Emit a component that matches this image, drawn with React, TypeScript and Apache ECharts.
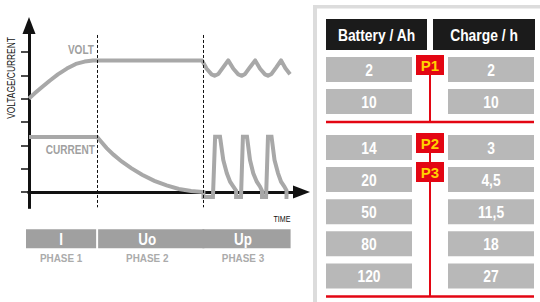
import React, { useEffect, useRef } from 'react';
import * as echarts from 'echarts';

// ---------- chart data ----------
const phaseCodes = ['I', 'Uo', 'Up'];
const phaseNames = ['PHASE 1', 'PHASE 2', 'PHASE 3'];
const phaseStarts = [0, 25, 64];
const phaseEnds = [25, 64, 96];

const yTicks = [0, 1, 2, 3, 4, 5, 6];

const voltTime = [0, 2.2, 4.8, 7.7, 10.6, 13.9, 17.2, 20.4, 23.5, 25, 63.5,
  65.2, 67.0, 68.1, 69.5, 71.3, 73.1,
  75.0, 76.8, 78.1, 79.3, 81.1, 83.0,
  84.8, 86.6, 87.7, 89.0, 90.8, 92.5,
  94.1, 95.8];
const voltLevel = [4.01, 4.24, 4.5, 4.78, 5.04, 5.29, 5.49, 5.59, 5.64, 5.64, 5.64,
  5.28, 5.04, 4.98, 5.06, 5.35, 5.64,
  5.28, 5.04, 4.98, 5.06, 5.35, 5.64,
  5.28, 5.04, 4.98, 5.06, 5.35, 5.64,
  5.3, 5.05];

const currentTime = [0, 25, 26.5, 28.5, 31, 34, 37.5, 41.5, 46, 50.5, 55, 59.5, 64,
  64, 67.5,
  68.3, 70.1, 71.3, 72.6, 73.8, 75.0, 76.0, 76.0, 77.8,
  78.5, 80.0, 81.1, 82.3, 83.6, 84.8, 85.5, 85.5, 87.0,
  87.7, 89.0, 90.1, 91.4, 92.5, 93.7, 94.5, 94.5, 95.2];
const currentLevel = [2.36, 2.36, 2.15, 1.88, 1.6, 1.31, 1.02, 0.74, 0.48, 0.28, 0.13, 0.04, 0,
  -0.21, -0.21,
  2.37, 2.37, 1.37, 0.8, 0.44, 0.23, 0.06, -0.21, -0.21,
  2.37, 2.37, 1.37, 0.8, 0.44, 0.23, 0.06, -0.21, -0.21,
  2.37, 2.37, 1.37, 0.8, 0.44, 0.23, 0.06, -0.21, -0.21];

// ---------- table data ----------
const tableHeaders = ['Battery / Ah', 'Charge / h'];
const batteryAh = ['2', '10', '14', '20', '50', '80', '120'];
const chargeHours = ['2', '10', '3', '4,5', '11,5', '18', '27'];
const chargePrograms = ['P1', 'P1', 'P2', 'P3', 'P3', 'P3', 'P3'];
const programBlocks = [0, 0, 1, 1, 1, 1, 1];

// ---------- layout / style constants ----------
const Y_MIN = -0.656;
const Y_MAX = 7.136;
const DASH_TOP = 6.73;
const BLOCK_GAP = 0.43;
const HEADER_SLOT = -1.09;

const GRAY_LINE = '#a8a8a8';
const RED = '#e30613';
const CELL = '#b8b8b8';
const SANS = "'Liberation Sans', Arial, Helvetica, sans-serif";
const NARROW_SCALE = 0.84;

const slotOf = (i: number) => i + programBlocks[i] * BLOCK_GAP;
const startsBox = (i: number) => i === 0 || chargePrograms[i] !== chargePrograms[i - 1];

const narrowText = (x: number, y: number, text: string, fill: string, fontSize: number, bold: boolean, align = 'center', extra: any = {}, scale = NARROW_SCALE) => ({
  type: 'text', x, y, scaleX: scale, ...extra,
  style: { text, fill, fontSize, fontWeight: bold ? 'bold' : 'normal', fontFamily: SANS, align, verticalAlign: 'middle' },
});

export default function App() {
  const ref = useRef<HTMLDivElement>(null);

  useEffect(() => {
    if (!ref.current) return;
    const chart = echarts.init(ref.current, undefined, { renderer: 'svg' });

    const voltData = voltTime.map((t, i) => [t, voltLevel[i]]);
    const currentData = currentTime.map((t, i) => [t, currentLevel[i]]);
    const phaseData = phaseCodes.map((c, i) => [phaseStarts[i], phaseEnds[i]]);
    const tableData = batteryAh.map((b, i) => [0, slotOf(i)]);

    const firstRowOfBlock = (blk: number) => programBlocks.indexOf(blk);

    const option: any = {
      animation: false,
      grid: [
        { left: 29, top: 25.5, right: 238.5, bottom: 94.7 },
        { left: 326, top: 18.14, right: 5, bottom: 1.38 },
      ],
      xAxis: [
        {
          gridIndex: 0, type: 'value', min: 0, max: 100,
          axisLine: {
            show: true, symbol: ['none', 'triangle'], symbolSize: [13, 17],
            lineStyle: { color: '#111', width: 3, cap: 'square' },
          },
          axisTick: { show: false }, axisLabel: { show: false }, splitLine: { show: false },
        },
        { gridIndex: 1, type: 'value', min: 0, max: 1, show: false },
      ],
      yAxis: [
        {
          gridIndex: 0, type: 'value', min: Y_MIN, max: Y_MAX,
          axisLine: {
            show: true, symbol: ['none', 'triangle'], symbolSize: [13, 17],
            lineStyle: { color: '#111', width: 3, cap: 'square' },
          },
          axisTick: { show: true, length: 8, customValues: yTicks, lineStyle: { color: '#111', width: 1.5 } },
          axisLabel: { show: false, customValues: yTicks },
          splitLine: { show: false },
        },
        { gridIndex: 1, type: 'value', min: -1.6, max: 7.2, inverse: true, show: false },
      ],
      series: [
        {
          type: 'line', xAxisIndex: 0, yAxisIndex: 0, data: voltData, showSymbol: false,
          lineStyle: { color: GRAY_LINE, width: 4, join: 'round' }, z: 3,
          markLine: {
            silent: true, symbol: ['none', 'none'], label: { show: false },
            lineStyle: { color: '#111', width: 1, type: [3, 2] },
            data: phaseStarts.slice(1).map((t) => [{ coord: [t, DASH_TOP] }, { coord: [t, Y_MIN] }]),
          },
        },
        {
          type: 'line', xAxisIndex: 0, yAxisIndex: 0, data: currentData, showSymbol: false,
          lineStyle: { color: GRAY_LINE, width: 4, join: 'miter' }, z: 3,
        },
        {
          type: 'custom', xAxisIndex: 0, yAxisIndex: 0, data: phaseData, clip: false, silent: true,
          renderItem: (params: any, api: any) => {
            const i = params.dataIndex;
            const cs = params.coordSys;
            const base = cs.y + cs.height;
            let x0 = api.coord([api.value(0), 0])[0];
            let x1 = api.coord([api.value(1), 0])[0];
            let cx = (x0 + x1) / 2;
            if (i === 0) { x0 -= 3; x1 -= 1; cx = (x0 + x1) / 2; }
            if (i === 1) { x0 += 1; x1 += 1; cx -= 3; }
            if (i === 2) { x0 -= 1; cx -= 4; }
            return {
              type: 'group',
              children: [
                { type: 'rect', shape: { x: x0, y: base + 22, width: x1 - x0, height: 19 }, style: { fill: '#a0a0a0' } },
                narrowText(cx, base + 32, phaseCodes[i], '#fff', 16, true),
                narrowText(cx, base + 51, phaseNames[i], '#ababab', 11, true, 'center', {}, 0.9),
              ],
            };
          },
        },
        // table lines (under boxes)
        {
          type: 'custom', xAxisIndex: 1, yAxisIndex: 1, data: tableData, clip: false, silent: true, z: 1,
          renderItem: (params: any, api: any) => {
            const i = params.dataIndex;
            const cs = params.coordSys;
            const blk = programBlocks[i];
            if (i < programBlocks.length - 1 && programBlocks[i + 1] === blk) return { type: 'group', children: [] };
            const cy = api.coord([0, api.value(1)])[1];
            const firstCy = api.coord([0, slotOf(firstRowOfBlock(blk))])[1];
            const lineY = cy + 20.5;
            return {
              type: 'group',
              children: [
                { type: 'line', shape: { x1: cs.x, y1: lineY, x2: cs.x + 208, y2: lineY }, style: { stroke: RED, lineWidth: 2.5 } },
                { type: 'line', shape: { x1: cs.x + 104, y1: firstCy, x2: cs.x + 104, y2: lineY }, style: { stroke: RED, lineWidth: 2 } },
              ],
            };
          },
        },
        // table cells
        {
          type: 'custom', xAxisIndex: 1, yAxisIndex: 1, data: tableData, clip: false, silent: true, z: 2,
          renderItem: (params: any, api: any) => {
            const i = params.dataIndex;
            const cs = params.coordSys;
            const cy = api.coord([0, api.value(1)])[1];
            const children: any[] = [];
            if (i === 0) {
              const hy = api.coord([0, HEADER_SLOT])[1];
              children.push(
                { type: 'rect', shape: { x: cs.x, y: hy - 15.5, width: 101, height: 31 }, style: { fill: '#1b1b1b' } },
                { type: 'rect', shape: { x: cs.x + 107, y: hy - 15.5, width: 102, height: 31 }, style: { fill: '#1b1b1b' } },
                narrowText(cs.x + 50.5, hy + 0.5, tableHeaders[0], '#fff', 16.5, true),
                narrowText(cs.x + 158, hy + 0.5, tableHeaders[1], '#fff', 16.5, true),
              );
            }
            children.push(
              { type: 'rect', shape: { x: cs.x, y: cy - 12.5, width: 86, height: 25 }, style: { fill: CELL } },
              { type: 'rect', shape: { x: cs.x + 122, y: cy - 12.5, width: 86, height: 25 }, style: { fill: CELL } },
              narrowText(cs.x + 43, cy + 0.5, batteryAh[i], '#fff', 16.5, true),
              narrowText(cs.x + 165, cy + 0.5, chargeHours[i], '#fff', 16.5, true),
            );
            if (startsBox(i)) {
              let top = cy - 14.5;
              if (i > 0 && startsBox(i - 1) && programBlocks[i - 1] === programBlocks[i]) {
                const prevCy = api.coord([0, slotOf(i - 1)])[1];
                top = prevCy - 14.5 + 29;
              }
              children.push(
                { type: 'rect', shape: { x: cs.x + 90, y: top, width: 28, height: 20 }, style: { fill: RED } },
                {
                  type: 'text', x: cs.x + 104, y: top + 10.5,
                  style: { text: chargePrograms[i], fill: '#ffd200', fontSize: 15, fontWeight: 'bold', fontFamily: SANS, align: 'center', verticalAlign: 'middle' },
                },
              );
            }
            return { type: 'group', children };
          },
        },
      ],
      graphic: [
        { type: 'rect', left: 313, top: 5, shape: { width: 227, height: 3.5 }, style: { fill: '#dcdcdc' }, silent: true },
        { type: 'rect', left: 313, top: 5, shape: { width: 4, height: 297 }, style: { fill: '#dcdcdc' }, silent: true },
        narrowText(94, 50, 'VOLT', '#a0a0a0', 12, true, 'right'),
        narrowText(95, 150, 'CURRENT', '#a0a0a0', 12, true, 'right'),
        narrowText(12, 78, 'VOLTAGE/CURRENT', '#111', 10, false, 'center', { rotation: Math.PI / 2 }),
        narrowText(282, 219, 'TIME', '#111', 8.5, false, 'center'),
      ],
    };

    chart.setOption(option);
    return () => chart.dispose();
  }, []);

  return <div ref={ref} style={{ position: 'fixed', left: 0, top: 0, width: 540, height: 302, background: '#fff' }} />;
}
